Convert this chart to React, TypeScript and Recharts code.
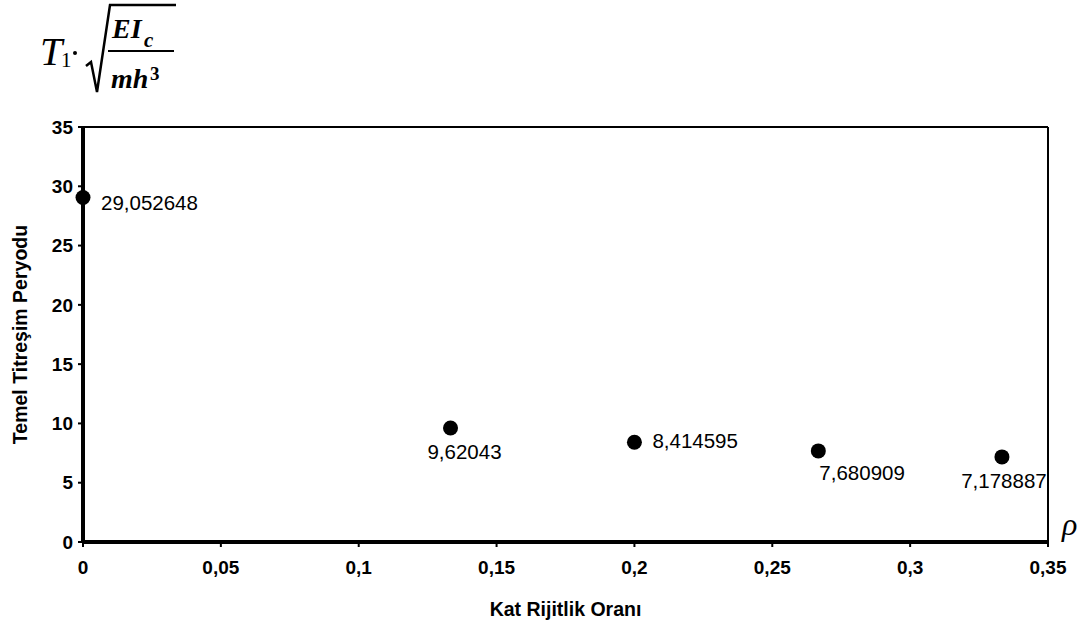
import { ScatterChart, Scatter, XAxis, YAxis, ReferenceLine, LabelList, Label } from 'recharts';

const rho = [0, 0.1333, 0.2, 0.2667, 0.3333];
const period = [29.052648, 9.62043, 8.414595, 7.680909, 7.178887];
const valueLabels = ['29,052648', '9,62043', '8,414595', '7,680909', '7,178887'];
const xTicks = [0, 0.05, 0.1, 0.15, 0.2, 0.25, 0.3, 0.35];
const yTicks = [0, 5, 10, 15, 20, 25, 30, 35];

// where each value label sits relative to its dot
const labelPlacement = ['right', 'below', 'right', 'belowRight', 'below'];

const data = rho.map((x, i) => ({ x, y: period[i], label: valueLabels[i] }));

const fmt = (v: number) => String(v).replace('.', ',');

const sans = 'Liberation Sans, Arial, sans-serif';

const renderValueLabel = (props: any) => {
  const { x, y, width, height, value, index } = props;
  const cx = x + width / 2;
  const cy = y + height / 2;
  const place = labelPlacement[index];
  let tx = cx + 18;
  let ty = cy + 12;
  let anchor = 'start';
  if (place === 'below') {
    tx = cx + (index === 1 ? 14 : 2);
    ty = cy + 31;
    anchor = 'middle';
  } else if (place === 'belowRight') {
    tx = cx + 1;
    ty = cy + 29;
  } else if (index === 2) {
    ty = cy + 6;
  }
  return (
    <text x={tx} y={ty} textAnchor={anchor} fontSize={20.5} fill="#000" fontFamily={sans}>
      {value}
    </text>
  );
};

function Formula() {
  const serif = 'Liberation Serif, Times New Roman, serif';
  return (
    <svg width={200} height={100} style={{ position: 'absolute', left: 0, top: 0 }}>
      <text x={40} y={65} fontFamily={serif} fontStyle="italic" fontSize={40}>T</text>
      <text x={61} y={67} fontFamily={serif} fontSize={21}>1</text>
      <circle cx={75} cy={53} r={2} fill="#000" />
      <path d="M86 66 L91 62 L97 92 L110 5 L176 5" stroke="#000" strokeWidth={2.5} fill="none" />
      <text x={112} y={38} fontFamily={serif} fontStyle="italic" fontWeight="bold" fontSize={28}>EI</text>
      <text x={144} y={47} fontFamily={serif} fontStyle="italic" fontWeight="bold" fontSize={21}>c</text>
      <line x1={108} x2={174} y1={51} y2={51} stroke="#000" strokeWidth={2} />
      <text x={111} y={88} fontFamily={serif} fontStyle="italic" fontWeight="bold" fontSize={28}>mh</text>
      <text x={150} y={80} fontFamily={serif} fontWeight="bold" fontSize={19}>3</text>
    </svg>
  );
}

export default function App() {
  const tickStyle = { fontSize: 19, fontWeight: 'bold', fill: '#000', fontFamily: sans };
  return (
    <div style={{ position: 'absolute', left: 0, top: 0, width: 1083, height: 629, background: '#fff' }}>
      <Formula />
      <ScatterChart width={1083} height={629} margin={{ top: 127, right: 35, left: 0, bottom: 27 }}>
        <XAxis
          type="number"
          dataKey="x"
          domain={[0, 0.35]}
          ticks={xTicks}
          tickFormatter={fmt}
          height={60}
          axisLine={{ stroke: '#000', strokeWidth: 4 }}
          tickLine={{ stroke: '#000', strokeWidth: 2 }}
          tickSize={5}
          tickMargin={14}
          tick={tickStyle}
        >
          <Label
            value="Kat Rijitlik Oranı"
            position="bottom"
            offset={0}
            style={{ fontSize: 19.5, fontWeight: 'bold', fill: '#000', fontFamily: sans }}
          />
        </XAxis>
        <YAxis
          type="number"
          dataKey="y"
          domain={[0, 35]}
          ticks={yTicks}
          width={83}
          axisLine={{ stroke: '#000', strokeWidth: 4 }}
          tickLine={{ stroke: '#000', strokeWidth: 2 }}
          tickSize={5}
          tickMargin={5}
          tick={tickStyle}
        >
          <Label
            value="Temel Titreşim Peryodu"
            angle={-90}
            position="insideLeft"
            offset={20}
            style={{ textAnchor: 'middle', fontSize: 19.5, fontWeight: 'bold', fill: '#000', fontFamily: sans }}
          />
        </YAxis>
        <ReferenceLine y={35} stroke="#000" strokeWidth={2} />
        <ReferenceLine x={0.35} stroke="#000" strokeWidth={2} />
        <Scatter
          data={data}
          fill="#000"
          isAnimationActive={false}
          shape={(p: any) => <circle cx={p.cx} cy={p.cy} r={7.5} fill="#000" />}
        >
          <LabelList dataKey="label" content={renderValueLabel} />
        </Scatter>
      </ScatterChart>
      <div
        style={{
          position: 'absolute',
          left: 1062,
          top: 508,
          fontFamily: 'Liberation Serif, Times New Roman, serif',
          fontStyle: 'italic',
          fontSize: 32,
          lineHeight: '32px',
        }}
      >
        ρ
      </div>
    </div>
  );
}
